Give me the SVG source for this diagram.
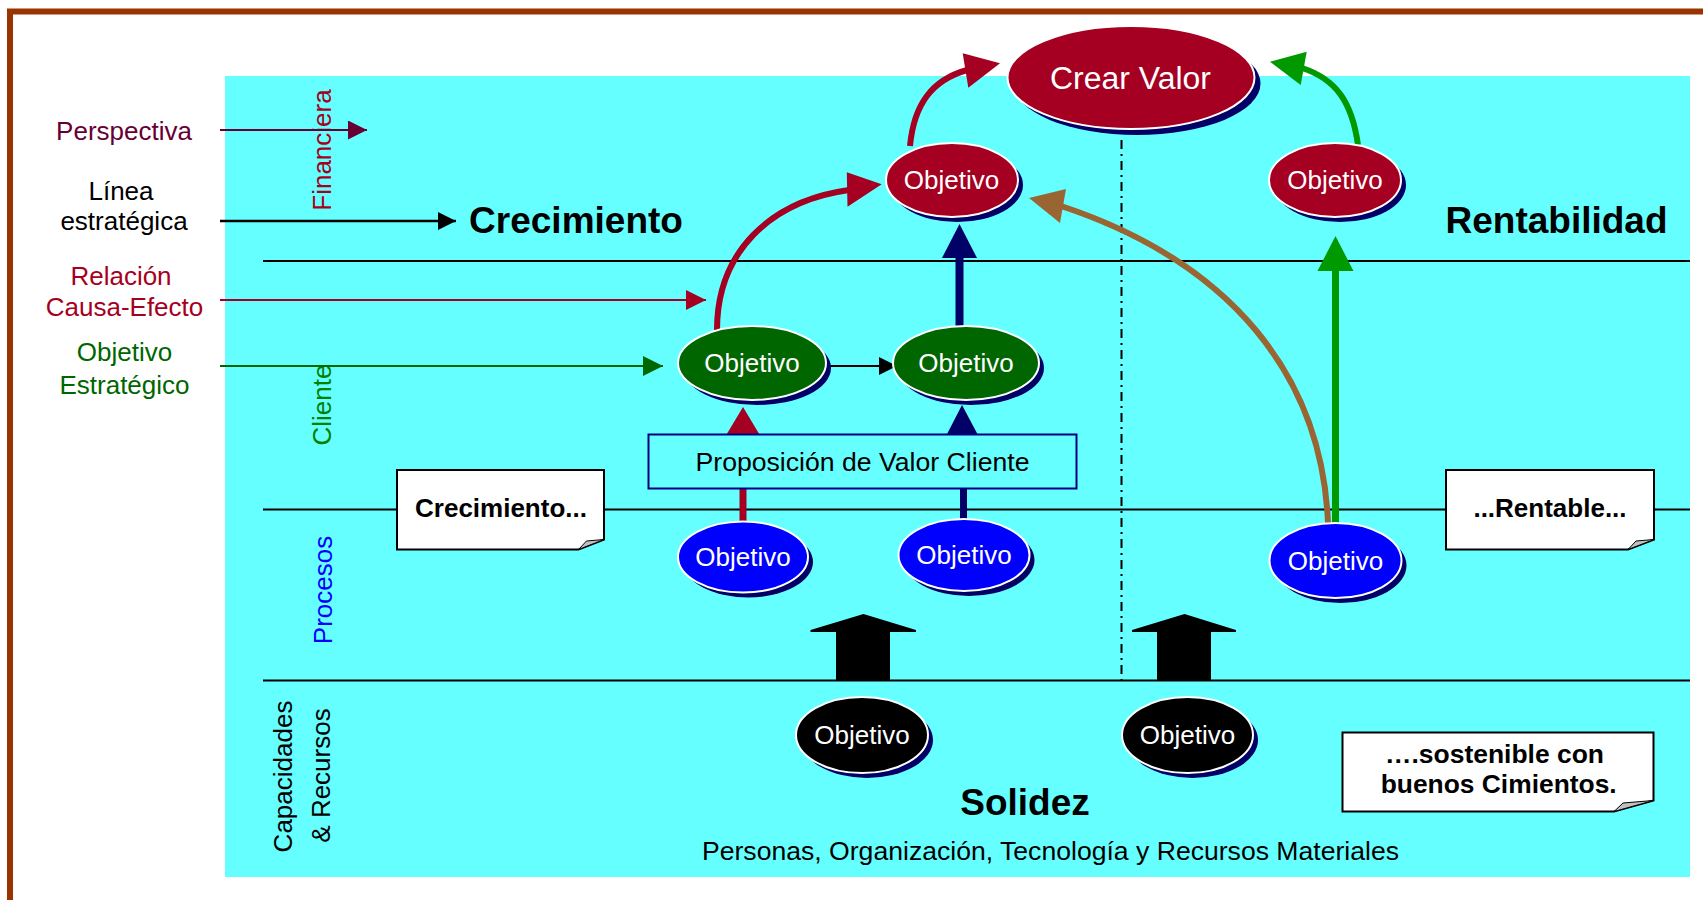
<svg xmlns="http://www.w3.org/2000/svg" width="1703" height="900" viewBox="0 0 1703 900">
<style>
  text { font-family: "Liberation Sans", Arial, sans-serif; }
  .lane { stroke: #000; stroke-width: 2; }
  .sh { fill: #000066; }
  .main { stroke: #ffffff; stroke-width: 2; }
  .obj { fill: #ffffff; font-size: 26px; text-anchor: middle; }
  .lbl { font-size: 26px; text-anchor: middle; }
  .title { font-size: 37px; font-weight: bold; text-anchor: middle; fill: #000; }
  .note { fill: #ffffff; stroke: #000; stroke-width: 2; }
  .fold { fill: #c0c0c0; stroke: #000; stroke-width: 1; }
  .notetxt { font-size: 26px; font-weight: bold; text-anchor: middle; fill: #000; }
  .crimson { fill: #A50021; }
  .dgreen { fill: #006600; }
  .blue { fill: #0000FF; }
  .black { fill: #000000; }
</style>
<defs>
  <marker id="mk-purple" viewBox="0 0 20 20" refX="20" refY="10" markerWidth="20" markerHeight="19" markerUnits="userSpaceOnUse" orient="auto"><path d="M0,0 L20,10 L0,20 Z" fill="#660033"/></marker>
  <marker id="mk-black" viewBox="0 0 20 20" refX="20" refY="10" markerWidth="21" markerHeight="18" markerUnits="userSpaceOnUse" orient="auto"><path d="M0,0 L20,10 L0,20 Z" fill="#000000"/></marker>
  <marker id="mk-crimson" viewBox="0 0 20 20" refX="20" refY="10" markerWidth="20" markerHeight="20" markerUnits="userSpaceOnUse" orient="auto"><path d="M0,0 L20,10 L0,20 Z" fill="#A50021"/></marker>
  <marker id="mk-green" viewBox="0 0 20 20" refX="20" refY="10" markerWidth="20" markerHeight="20" markerUnits="userSpaceOnUse" orient="auto"><path d="M0,0 L20,10 L0,20 Z" fill="#006600"/></marker>
</defs>

<!-- background -->
<rect x="0" y="0" width="1703" height="900" fill="#ffffff"/>
<rect x="10" y="11.5" width="1760" height="960" fill="none" stroke="#993300" stroke-width="6"/>
<rect x="225" y="76" width="1465" height="801" fill="#66FFFF"/>

<!-- swimlane lines -->
<g id="lanes">
  <line class="lane" x1="263" y1="261" x2="1690" y2="261"/>
  <line class="lane" x1="263" y1="509.5" x2="1690" y2="509.5"/>
  <line class="lane" x1="263" y1="680.5" x2="1690" y2="680.5"/>
  <line x1="1121.5" y1="140" x2="1121.5" y2="680" stroke="#000" stroke-width="2" stroke-dasharray="9 5 2 5"/>
</g>

<!-- perspective labels (rotated) -->
<g id="perspectives">
  <text class="lbl" fill="#A50021" transform="translate(331,150) rotate(-90)">Financiera</text>
  <text class="lbl" fill="#008000" transform="translate(331,405) rotate(-90)">Cliente</text>
  <text class="lbl" fill="#0000FF" transform="translate(332,590) rotate(-90)">Procesos</text>
  <text class="lbl" fill="#000000" transform="translate(292,776.5) rotate(-90)">Capacidades</text>
  <text class="lbl" fill="#000000" transform="translate(330,775.5) rotate(-90)">&amp; Recursos</text>
</g>

<!-- legend labels -->
<g id="legend">
  <text class="lbl" fill="#660033" x="124" y="140">Perspectiva</text>
  <text class="lbl" fill="#000000" x="121" y="199.5">Línea</text>
  <text class="lbl" fill="#000000" x="124" y="230">estratégica</text>
  <text class="lbl" fill="#A50021" x="121" y="284.5">Relación</text>
  <text class="lbl" fill="#A50021" x="124.5" y="316">Causa-Efecto</text>
  <text class="lbl" fill="#006600" x="124.5" y="361">Objetivo</text>
  <text class="lbl" fill="#006600" x="124.5" y="393.5">Estratégico</text>
</g>

<!-- connectors -->
<g id="connectors">
  <line x1="220" y1="130" x2="367" y2="130" stroke="#660033" stroke-width="2" marker-end="url(#mk-purple)"/>
  <line x1="220" y1="221" x2="456" y2="221" stroke="#000000" stroke-width="2.5" marker-end="url(#mk-black)"/>
  <line x1="220" y1="300" x2="706" y2="300" stroke="#A50021" stroke-width="2" marker-end="url(#mk-crimson)"/>
  <line x1="220" y1="366" x2="663" y2="366" stroke="#006600" stroke-width="2" marker-end="url(#mk-green)"/>
  <line x1="826" y1="366" x2="897" y2="366" stroke="#000000" stroke-width="2" marker-end="url(#mk-black)"/>

  <!-- red arc green1 -> red1 -->
  <path d="M717,330 C717,252 770,201 849,190" fill="none" stroke="#A50021" stroke-width="6"/>
  <polygon points="846.8,172.3 881.7,184.3 847.5,206.7" fill="#A50021"/>
  <!-- red arc red1 -> Crear Valor -->
  <path d="M910,146 C914,104 932,80 967,70" fill="none" stroke="#A50021" stroke-width="6"/>
  <polygon points="962.7,53.3 1000,63.3 968.3,87.7" fill="#A50021"/>
  <!-- green arc red2 -> Crear Valor -->
  <path d="M1358,145 C1352,102 1336,79 1302,68" fill="none" stroke="#009900" stroke-width="6"/>
  <polygon points="1306.7,51.7 1270,61.7 1300.7,85" fill="#009900"/>
  <!-- navy vertical green2 -> red1 -->
  <line x1="959.5" y1="328" x2="959.5" y2="256" stroke="#000066" stroke-width="8"/>
  <polygon points="942,258 959.5,224 977,258" fill="#000066"/>
  <!-- brown arc blue3 -> red1 -->
  <path d="M1328,523 C1322,375 1230,262 1061,206" fill="none" stroke="#996633" stroke-width="6"/>
  <polygon points="1029,198 1066,189 1060,223" fill="#996633"/>
  <!-- green vertical blue3 -> red2 -->
  <line x1="1335.5" y1="524" x2="1335.5" y2="268" stroke="#009900" stroke-width="7"/>
  <polygon points="1317.5,271 1335.5,236 1353.5,271" fill="#009900"/>
  <!-- red short blue1 -> green1 -->
  <line x1="743" y1="521" x2="743" y2="435" stroke="#A50021" stroke-width="7"/>
  <polygon points="725,437 743,407 761,437" fill="#A50021"/>
  <!-- navy short blue2 -> green2 -->
  <line x1="963.5" y1="520" x2="963.5" y2="435" stroke="#000066" stroke-width="7"/>
  <polygon points="945.5,437 962,405 979,437" fill="#000066"/>
  <!-- block arrows -->
  <polygon points="810.5,630 863.5,614 916,630 916,632 890,632 890,680 836,680 836,632 810.5,632" fill="#000000"/>
  <polygon points="1132,630 1184.5,614 1236,630 1236,632 1211,632 1211,680 1157,680 1157,632 1132,632" fill="#000000"/>
</g>

<!-- value proposition box -->
<g id="propuesta">
  <rect x="648.5" y="434.5" width="428" height="54" fill="#66FFFF" stroke="#000080" stroke-width="2"/>
  <text x="862.5" y="471" font-size="26" text-anchor="middle" fill="#000" textLength="334" lengthAdjust="spacingAndGlyphs">Proposición de Valor Cliente</text>
</g>

<!-- nodes -->
<g id="crear-valor">
  <ellipse class="sh" cx="1137" cy="83.5" rx="123.5" ry="51.5"/>
  <ellipse class="main crimson" cx="1131" cy="77.5" rx="123.5" ry="51.5"/>
  <text class="obj" x="1130.5" y="88.5" style="font-size:31px" textLength="161" lengthAdjust="spacingAndGlyphs">Crear Valor</text>
</g>
<g id="obj-fin-1">
  <ellipse class="sh" cx="957" cy="185" rx="66" ry="37"/>
  <ellipse class="main crimson" cx="952" cy="180" rx="66" ry="37"/>
  <text class="obj" x="951.5" y="189.3">Objetivo</text>
</g>
<g id="obj-fin-2">
  <ellipse class="sh" cx="1340" cy="185" rx="66" ry="37"/>
  <ellipse class="main crimson" cx="1335" cy="180" rx="66" ry="37"/>
  <text class="obj" x="1335" y="189.3">Objetivo</text>
</g>
<g id="obj-cli-1">
  <ellipse class="sh" cx="757" cy="368" rx="74" ry="37"/>
  <ellipse class="main dgreen" cx="752" cy="363" rx="74" ry="37"/>
  <text class="obj" x="752" y="372.3">Objetivo</text>
</g>
<g id="obj-cli-2">
  <ellipse class="sh" cx="971" cy="368" rx="73" ry="37"/>
  <ellipse class="main dgreen" cx="966" cy="363" rx="73" ry="37"/>
  <text class="obj" x="966" y="372.3">Objetivo</text>
</g>
<g id="obj-pro-1">
  <ellipse class="sh" cx="748" cy="562" rx="65" ry="35.5"/>
  <ellipse class="main blue" cx="743" cy="557" rx="65" ry="35.5"/>
  <text class="obj" x="743" y="566.3">Objetivo</text>
</g>
<g id="obj-pro-2">
  <ellipse class="sh" cx="969" cy="560" rx="65.5" ry="36"/>
  <ellipse class="main blue" cx="964" cy="555" rx="65.5" ry="36"/>
  <text class="obj" x="964" y="564.3">Objetivo</text>
</g>
<g id="obj-pro-3">
  <ellipse class="sh" cx="1340.5" cy="565.5" rx="66" ry="37.5"/>
  <ellipse class="main blue" cx="1335.5" cy="560.5" rx="66" ry="37.5"/>
  <text class="obj" x="1335.5" y="569.8">Objetivo</text>
</g>
<g id="obj-cap-1">
  <ellipse class="sh" cx="867" cy="740" rx="66" ry="38"/>
  <ellipse class="main black" cx="862" cy="735" rx="66" ry="38"/>
  <text class="obj" x="862" y="744.3">Objetivo</text>
</g>
<g id="obj-cap-2">
  <ellipse class="sh" cx="1192.5" cy="740" rx="65.5" ry="38"/>
  <ellipse class="main black" cx="1187.5" cy="735" rx="65.5" ry="38"/>
  <text class="obj" x="1187.5" y="744.3">Objetivo</text>
</g>

<!-- notes -->
<g id="note-crecimiento">
  <path class="note" d="M397,470 H604 V539.5 L578.5,549.5 H397 Z"/>
  <polygon class="fold" points="578.5,549.5 586.5,541 604,539.5"/>
  <text class="notetxt" x="501" y="516.7">Crecimiento...</text>
</g>
<g id="note-rentable">
  <path class="note" d="M1446,470 H1654 V539.5 L1628,549.5 H1446 Z"/>
  <polygon class="fold" points="1628,549.5 1636,541 1654,539.5"/>
  <text class="notetxt" x="1550" y="516.7">...Rentable...</text>
</g>
<g id="note-sostenible">
  <path class="note" d="M1342.5,732.5 H1653.5 V800.5 L1614,811.5 H1342.5 Z"/>
  <polygon class="fold" points="1614,811.5 1623,803 1653.5,800.5"/>
  <text class="notetxt" x="1494.5" y="763.3" style="font-size:25px" textLength="219" lengthAdjust="spacingAndGlyphs">….sostenible con</text>
  <text class="notetxt" x="1498.7" y="793.3" style="font-size:25px" textLength="236" lengthAdjust="spacingAndGlyphs">buenos Cimientos.</text>
</g>

<!-- titles -->
<g id="titles">
  <text class="title" x="576" y="233">Crecimiento</text>
  <text class="title" x="1556.5" y="233">Rentabilidad</text>
  <text class="title" x="1025" y="815">Solidez</text>
  <text x="1050.5" y="860" font-size="26" text-anchor="middle" fill="#000" textLength="697" lengthAdjust="spacingAndGlyphs">Personas, Organización, Tecnología y Recursos Materiales</text>
</g>
</svg>
